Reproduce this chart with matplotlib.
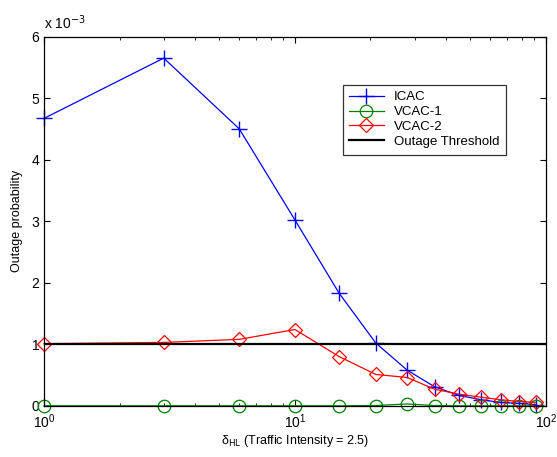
import matplotlib.pyplot as plt
from matplotlib.ticker import NullFormatter, LogLocator

plt.rcParams['font.family'] = ['Liberation Sans', 'DejaVu Sans']

# traffic intensity ratio (x) and outage probability in units of 1e-3
delta_hl = [1, 3, 6, 10, 15, 21, 28, 36, 45, 55, 66, 78, 91]
icac = [4.67, 5.65, 4.50, 3.02, 1.83, 1.02, 0.58, 0.31, 0.17, 0.10, 0.055, 0.04, 0.02]
vcac1 = [0, 0, 0, 0, 0, 0.005, 0.03, 0.005, 0, 0, 0, 0, 0]
vcac2 = [1.01, 1.03, 1.08, 1.24, 0.80, 0.51, 0.46, 0.27, 0.19, 0.14, 0.10, 0.07, 0.055]
threshold = 1.0
yticks = [0, 1, 2, 3, 4, 5, 6]

fig = plt.figure(figsize=(5.57, 4.57), dpi=100)
ax = fig.add_axes([0.079, 0.112, 0.901, 0.808])

ax.plot(delta_hl, icac, color='blue', marker='+', markersize=11, lw=0.9,
        mew=1.0, label='ICAC', clip_on=False)
ax.plot(delta_hl, vcac1, color='green', marker='o', markersize=9, lw=0.9,
        mfc='none', mew=0.9, label='VCAC-1', clip_on=False)
ax.plot(delta_hl, vcac2, color='red', marker='D', markersize=7.5, lw=0.9,
        mfc='none', mew=0.9, label='VCAC-2', clip_on=False)
ax.axhline(threshold, color='black', lw=1.6, label='Outage Threshold')

ax.set_xscale('log')
ax.set_xlim(1, 100)
ax.set_ylim(0, 6)
ax.set_yticks(yticks)
ax.set_yticklabels([str(t) for t in yticks])
ax.xaxis.set_minor_locator(LogLocator(subs=range(2, 10)))
ax.xaxis.set_minor_formatter(NullFormatter())
ax.tick_params(which='both', direction='in', top=True, right=True, labelsize=10)
ax.tick_params(which='major', length=4)
ax.tick_params(which='minor', length=2)
ax.tick_params(axis='x', pad=5)
for s in ax.spines.values():
    s.set_linewidth(0.9)

ax.text(0.0, 1.012, r'x 10$^{-3}$', transform=ax.transAxes, fontsize=10,
        ha='left', va='bottom')
ax.set_xlabel(r'δ$_{\mathrm{HL}}$ (Traffic Intensity = 2.5)', fontsize=9, labelpad=1)
ax.set_ylabel('Outage probability', fontsize=9, labelpad=6)

leg = ax.legend(loc='upper left', bbox_to_anchor=(0.582, 0.888), fontsize=9.5,
                frameon=True, fancybox=False, edgecolor='black',
                handlelength=2.6, borderpad=0.5, labelspacing=0.2)
leg.get_frame().set_linewidth(0.9)

fig.savefig('out.png', dpi=100)
